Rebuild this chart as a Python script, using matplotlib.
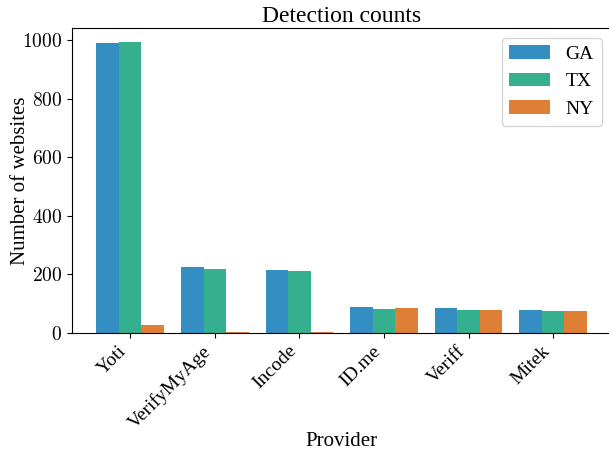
import numpy as np
import matplotlib
matplotlib.use('Agg')
import matplotlib.pyplot as plt
from matplotlib.ticker import FuncFormatter

# fonts: Times-like text, CM numbers through mathtext
plt.rcParams['font.family'] = 'serif'
plt.rcParams['font.serif'] = ['Liberation Serif', 'DejaVu Serif']
plt.rcParams['mathtext.fontset'] = 'cm'

providers = ['Yoti', 'VerifyMyAge', 'Incode', 'ID.me', 'Veriff', 'Mitek']
states = ['GA', 'TX', 'NY']
ga_counts = [990, 226, 216, 89, 86, 79]
tx_counts = [993, 219, 212, 82, 79, 75]
ny_counts = [27, 3, 3, 86, 79, 75]
colors = ['#358ec1', '#34b08e', '#df7f35']

fig, ax = plt.subplots(figsize=(6.09, 4.51), dpi=100)
plt.subplots_adjust(left=0.118, right=1.004, bottom=0.262, top=0.938)

x = np.arange(len(providers))
w = 0.8 / 3
for i, (vals, lab) in enumerate(zip([ga_counts, tx_counts, ny_counts], states)):
    ax.bar(x + (i - 1) * w, vals, width=w, color=colors[i], label=lab)

ax.set_xticks(x)
ax.set_xticklabels(providers, rotation=45, ha='right', fontsize=14)
ax.set_yticks([0, 200, 400, 600, 800, 1000])
ax.yaxis.set_major_formatter(FuncFormatter(lambda v, p: f'${v:.0f}$'))
ax.tick_params(axis='y', labelsize=14)
ax.set_xlabel('Provider', fontsize=15)
ax.set_ylabel('Number of websites', fontsize=15)
ax.xaxis.set_label_coords(0.5, -0.325)
ax.yaxis.set_label_coords(-0.078, 0.5)
ax.set_title('Detection counts', fontsize=17, pad=4)
ax.legend(fontsize=14, loc='upper right', handlelength=2.1)

plt.savefig('out.png', dpi=100)
